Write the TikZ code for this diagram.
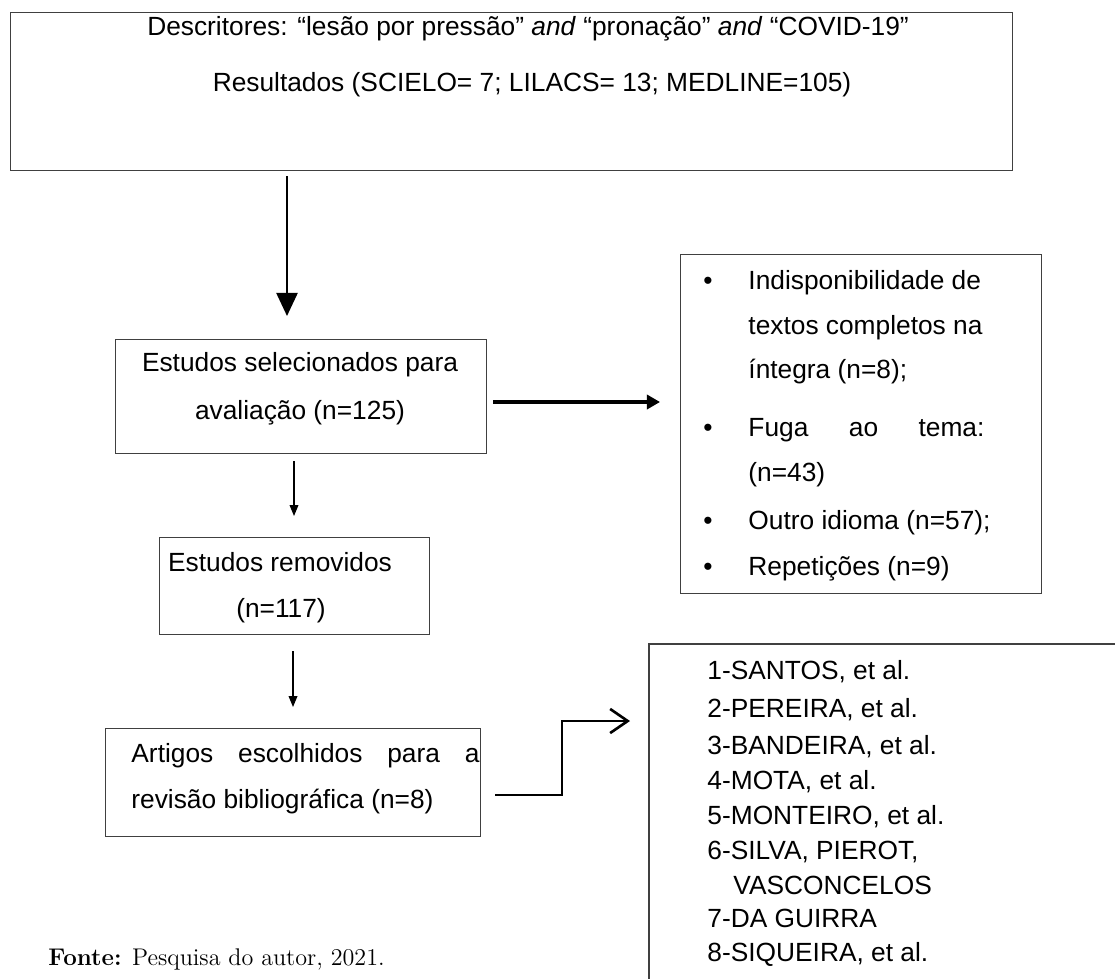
\documentclass[tikz,border=0pt]{standalone}
\usepackage{fontspec}
\setsansfont{Liberation Sans}
\usetikzlibrary{arrows.meta,positioning}

\begin{document}
\begin{tikzpicture}[x=0.456pt,y=-0.456pt,
  box/.style={draw=black!75,line width=0.5pt,inner sep=0pt,anchor=north west},
  txt/.style={inner sep=0pt,font=\sffamily\fontsize{12}{14}\selectfont},
  lefttxt/.style={txt,anchor=west},
  bigarrow/.style={line width=1pt,-{Triangle[length=10.5pt,width=9.6pt]}},
  thickarrow/.style={line width=1.4pt,-{Triangle[length=6pt,width=6.5pt]}},
  thinarrow/.style={line width=0.5pt,-{Triangle[length=5pt,width=4pt]}},
  openarrow/.style={line width=1.2pt,-{Straight Barb[length=8pt,width=11pt]}}]
  \useasboundingbox (0,0) rectangle (1115,979);
% Search box
  \node[box,minimum width=456.9pt,minimum height=72pt] (search) at (10,12) {};
  \node[txt] (searcha) at (528,29) {Descritores: “lesão por pressão” \textit{and} “pronação” \textit{and} “COVID-19”};
  \node[txt] (searchb) at (532,85) {Resultados (SCIELO= 7; LILACS= 13; MEDLINE=105)};
% Selected studies
  \node[box,minimum width=169.2pt,minimum height=52pt] (sel) at (115,339) {};
  \node[txt] (sela) at (300,365) {Estudos selecionados para};
  \node[txt] (selb) at (300,413) {avaliação (n=125)};
% Removed studies
  \node[box,minimum width=123.1pt,minimum height=44.2pt] (rem) at (159,537) {};
  \node[txt] (rema) at (280,562) {Estudos removidos};
  \node[txt] (remb) at (281,611) {(n=117)};
% Chosen articles
  \node[box,minimum width=171pt,minimum height=49.2pt] (art) at (105,728) {};
  \node[lefttxt] (arta) at (131,756) {\makebox[158.7pt][s]{Artigos escolhidos para a}};
  \node[lefttxt] (artb) at (131,802) {revisão bibliográfica (n=8)};
% Exclusion criteria
  \node[box,minimum width=164.6pt,minimum height=154.6pt] (excl) at (680,254) {};
  \node[txt] (bula) at (708,283) {\textbullet};
  \node[lefttxt] (excla) at (748,283) {Indisponibilidade de};
  \node[lefttxt] (exclb) at (748,328) {textos completos na};
  \node[lefttxt] (exclc) at (748,372) {íntegra (n=8);};
  \node[txt] (bulb) at (708,430) {\textbullet};
  \node[lefttxt] (excld) at (748,430) {\makebox[107.6pt][s]{Fuga ao tema:}};
  \node[lefttxt] (excle) at (748,475) {(n=43)};
  \node[txt] (bulc) at (708,523) {\textbullet};
  \node[lefttxt] (exclf) at (748,523) {Outro idioma (n=57);};
  \node[txt] (buld) at (708,569) {\textbullet};
  \node[lefttxt] (exclg) at (748,569) {Repetições (n=9)};
% Article list (open box)
  \coordinate (list) at (649,644);
  \draw[draw=black!75,line width=0.5pt] (1115,644) -- (list) -- (649,979);
  \node[lefttxt] (lista) at (707,672) {1-SANTOS, et al.};
  \node[lefttxt] (listb) at (707,710) {2-PEREIRA, et al.};
  \node[lefttxt] (listc) at (707,747) {3-BANDEIRA, et al.};
  \node[lefttxt] (listd) at (707,782) {4-MOTA, et al.};
  \node[lefttxt] (liste) at (707,817) {5-MONTEIRO, et al.};
  \node[lefttxt] (listf) at (707,852) {6-SILVA, PIEROT,};
  \node[lefttxt] (listg) at (733,885) {VASCONCELOS};
  \node[lefttxt] (listh) at (707,918) {7-DA GUIRRA};
  \node[lefttxt] (listi) at (707,954) {8-SIQUEIRA, et al.};
% Source note
  \node[anchor=west,inner sep=0pt,font=\rmfamily\fontsize{11}{13}\selectfont] (fonte) at (48,959) {\textbf{Fonte:} Pesquisa do autor, 2021.};
% Arrow ends
  \coordinate (atop) at (287,176);
  \coordinate (atip) at (287,316);
  \coordinate (btop) at (493,402);
  \coordinate (btip) at (660,402);
  \coordinate (ctop) at (294,461);
  \coordinate (ctip) at (294,516);
  \coordinate (dtop) at (293,651);
  \coordinate (dtip) at (293,707);
  \coordinate (etop) at (495,795);
  \coordinate (etip) at (630,721);
% Arrows
  \draw[bigarrow] (atop) -- (atip);
  \draw[thickarrow] (btop) -- (btip);
  \draw[thinarrow] (ctop) -- (ctip);
  \draw[thinarrow] (dtop) -- (dtip);
  \draw[openarrow] (etop) -- (562,795) |- (etip);
\end{tikzpicture}
\end{document}
